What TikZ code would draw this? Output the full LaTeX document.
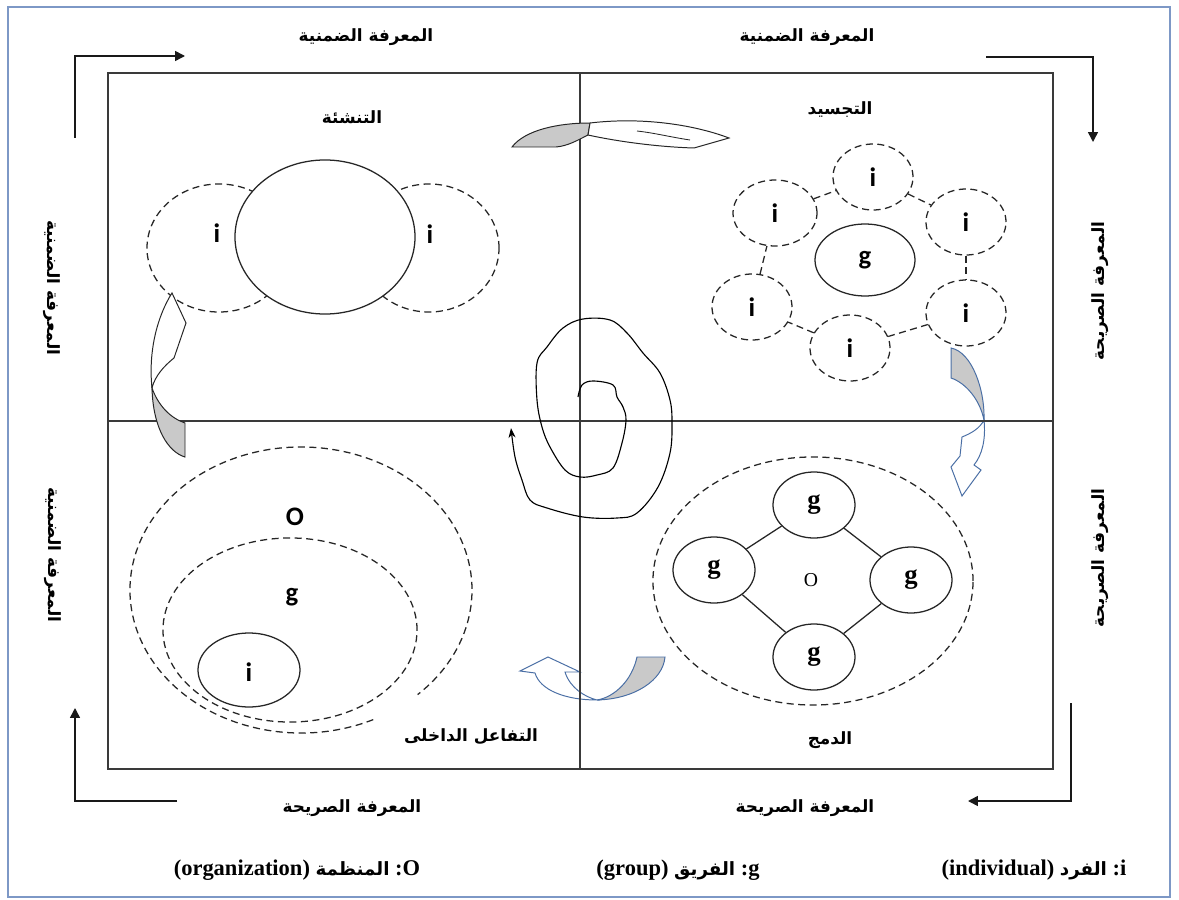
\documentclass[tikz,border=0pt]{standalone}
\usepackage{fontspec}
\usetikzlibrary{shapes.geometric,arrows.meta}
\TeXXeTstate=1
\setmainfont{Liberation Serif}
\newfontfamily\arabicfont[Script=Arabic]{DejaVu Sans}
\newfontfamily\labelsans{Carlito}

\definecolor{frameblue}{HTML}{7D98C6}
\definecolor{arrowblue}{HTML}{4A6FA5}
\definecolor{tailgray}{HTML}{C9C9C9}
\definecolor{linegray}{HTML}{3A3A3A}

\tikzset{
  artxt/.style={font=\arabicfont\bfseries\fontsize{12}{14}\selectfont, inner sep=1pt},
  sanslbl/.style={font=\labelsans\bfseries\fontsize{19}{21}\selectfont, inner sep=0pt},
  seriflbl/.style={font=\bfseries\fontsize{19}{21}\selectfont, inner sep=0pt},
  legend/.style={font=\bfseries\fontsize{16}{18}\selectfont, inner sep=1pt},
  dashring/.style={ellipse, draw=black!85, dash pattern=on 5pt off 3.2pt, line width=0.9pt, inner sep=0pt},
  solidring/.style={ellipse, draw=black!85, line width=0.9pt, fill=white, inner sep=0pt},
  dashlink/.style={draw=black!85, dash pattern=on 5pt off 3.2pt, line width=0.9pt},
  solidlink/.style={draw=black!85, line width=0.9pt},
  cornerarrow/.style={draw=black!90, line width=1.1pt, -{Triangle[length=7pt,width=7pt]}},
  blackband/.style={draw=black!85, line width=0.7pt, fill=white},
  blueband/.style={draw=arrowblue, line width=0.7pt, fill=white},
  blacktail/.style={draw=black!85, line width=0.7pt, fill=tailgray},
  bluetail/.style={draw=arrowblue, line width=0.7pt, fill=tailgray},
  foldline/.style={draw=black!85, line width=0.6pt},
}
\newcommand\legar[1]{{\arabicfont\bfseries\fontsize{13}{15}\selectfont #1}}

\begin{document}
\begin{tikzpicture}[x=0.025cm, y=-0.025cm]
\useasboundingbox (0,0) rectangle (1179,900);
\fill[white] (0,0) rectangle (1179,900);

% page frame
\draw[frameblue, line width=1.2pt] (8,7) rectangle (1170,897);

% --- top-right quadrant: individuals around a group ---
\node[dashring, minimum width=2cm, minimum height=1.65cm] (it)  at (873,177) {};
\node[dashring, minimum width=2.1cm, minimum height=1.65cm] (iul) at (775,213) {};
\node[dashring, minimum width=2cm, minimum height=1.65cm] (iur) at (966,222) {};
\node[dashring, minimum width=2cm, minimum height=1.65cm] (il)  at (752,307) {};
\node[dashring, minimum width=2cm, minimum height=1.65cm] (ilr) at (966,313) {};
\node[dashring, minimum width=2cm, minimum height=1.65cm] (ib)  at (850,348) {};
\node[solidring, minimum width=2.5cm, minimum height=1.8cm, sanslbl] (gc) at (865,260) {g};
\path[dashlink] (iul) -- (it);
\path[dashlink] (it) -- (iur);
\path[dashlink] (iur) -- (ilr);
\path[dashlink] (ilr) -- (ib);
\path[dashlink] (ib) -- (il);
\path[dashlink] (il) -- (iul);
\node[sanslbl] (tit)  at (it)  {i};
\node[sanslbl] (tiul) at (iul) {i};
\node[sanslbl] (tiur) at (iur) {i};
\node[sanslbl] (til)  at (il)  {i};
\node[sanslbl] (tilr) at (ilr) {i};
\node[sanslbl] (tib)  at (ib)  {i};

% --- top-left quadrant: two individuals sharing ---
\node[dashring, minimum width=3.6cm, minimum height=3.2cm] (sl) at (219,248) {};
\node[dashring, minimum width=3.5cm, minimum height=3.2cm] (sr) at (429,248) {};
\node[solidring, minimum width=4.5cm, minimum height=3.85cm] (sc) at (325,237) {};
\node[sanslbl] (sli) at (217,233) {i};
\node[sanslbl] (sri) at (430,234) {i};

% --- bottom-left quadrant: nested O, g, i ---
\draw[dashlink] (301,590) ++(65:171 and 143) arc[start angle=65, end angle=407, x radius=171, y radius=143];
\node[dashring, minimum width=6.35cm, minimum height=4.6cm] (ng) at (290,630) {};
\node[solidring, fill=none, minimum width=2.55cm, minimum height=1.85cm] (ni) at (249,670) {};
\node[sanslbl] (nO) at (295,517) {O};
\node[sanslbl] (ngl) at (292,597) {g};
\node[sanslbl] (nil) at (249,672) {i};

% --- bottom-right quadrant: groups within the organization ---
\node[dashring, minimum width=8cm, minimum height=6.2cm] (org) at (813,581) {};
\node[solidring, minimum width=2.05cm, minimum height=1.65cm, seriflbl] (gt) at (814,505) {g};
\node[solidring, minimum width=2.05cm, minimum height=1.65cm, seriflbl] (gl) at (714,570) {g};
\node[solidring, minimum width=2.05cm, minimum height=1.65cm, seriflbl] (gr) at (911,580) {g};
\node[solidring, minimum width=2.05cm, minimum height=1.65cm, seriflbl] (gb) at (814,657) {g};
\path[solidlink] (gt) -- (gl);
\path[solidlink] (gt) -- (gr);
\path[solidlink] (gl) -- (gb);
\path[solidlink] (gr) -- (gb);
\node[font=\fontsize{14}{16}\selectfont, inner sep=0pt] (oc) at (811,580) {O};

% --- blue curved arrows (under the frame lines) ---
\path[bluetail] (951,348) -- (951,378) .. controls (966,383) and (980,400) .. (984,420)
  .. controls (985,390) and (972,352) .. (951,348) -- cycle;
\path[blueband] (984,420) .. controls (986,440) and (982,455) .. (974,465) -- (981,470)
  -- (962,496) -- (951,467) -- (960,456) -- (962,437)
  .. controls (972,433) and (980,428) .. (984,420) -- cycle;
\path[bluetail] (637,657) -- (665,657) .. controls (663,680) and (635,699) .. (597,700)
  .. controls (615,697) and (632,680) .. (637,657) -- cycle;
\path[blueband] (597,700) .. controls (565,700) and (540,690) .. (535,673) -- (520,671)
  -- (548,657) -- (580,672) -- (565,672) .. controls (570,688) and (585,697) .. (597,700) -- cycle;

% --- the four quadrants ---
\draw[linegray, line width=1.3pt] (108,73) rectangle (1053,769);
\draw[linegray, line width=0.9pt] (580,73) -- (580,769);
\draw[linegray, line width=0.9pt] (108,421) -- (1053,421);

% --- black curved arrows ---
\path[blacktail] (512,147) -- (556,147) .. controls (568,146) and (578,140) .. (588,135)
  -- (590,123) .. controls (558,123) and (525,130) .. (512,147) -- cycle;
\path[blackband] (590,123) .. controls (640,117) and (692,124) .. (729,138) -- (694,148)
  .. controls (660,147) and (620,142) .. (588,135) -- cycle;
\path[foldline] (637,131) .. controls (655,133) and (670,137) .. (690,140);
\path[blacktail] (185,423) -- (185,457) .. controls (168,452) and (153,428) .. (152,388)
  .. controls (158,405) and (170,418) .. (185,423) -- cycle;
\path[blackband] (152,388) .. controls (148,350) and (158,315) .. (172,293) -- (186,323)
  -- (174,358) .. controls (164,366) and (155,376) .. (152,388) -- cycle;

% --- spiral of knowledge ---
\draw[black, line width=0.8pt, -{Stealth[length=7pt,width=5pt]}] plot[smooth, tension=0.6] coordinates {
  (578,397) (582,385) (593,381) (613,385) (617,397) (623,407) (626,420) (622,443)
  (613,468) (597,475) (580,477) (565,470) (550,447) (542,427) (537,400) (537,363)
  (547,347) (563,328) (583,319) (610,320) (627,333) (643,353) (660,373) (670,400)
  (672,423) (670,453) (658,487) (637,513) (617,518) (583,517) (547,508) (530,500)
  (522,480) (515,457) (511,428)};

% --- corner arrows ---
\coordinate (a1s) at (75,138);  \coordinate (a1m) at (75,56);   \coordinate (a1e) at (185,56);
\coordinate (a2s) at (986,57);  \coordinate (a2m) at (1093,57); \coordinate (a2e) at (1093,142);
\coordinate (a3s) at (1071,703); \coordinate (a3m) at (1071,801); \coordinate (a3e) at (968,801);
\coordinate (a4s) at (177,801); \coordinate (a4m) at (75,801);  \coordinate (a4e) at (75,708);
\draw[cornerarrow] (a1s) -- (a1m) -- (a1e);
\draw[cornerarrow] (a2s) -- (a2m) -- (a2e);
\draw[cornerarrow] (a3s) -- (a3m) -- (a3e);
\draw[cornerarrow] (a4s) -- (a4m) -- (a4e);

% --- Arabic labels ---
\node[artxt] (kt1) at (366,37) {\beginR المعرفة الضمنية\endR};
\node[artxt] (kt2) at (807,37) {\beginR المعرفة الضمنية\endR};
\node[artxt] (ke1) at (352,808) {\beginR المعرفة الصريحة\endR};
\node[artxt] (ke2) at (805,808) {\beginR المعرفة الصريحة\endR};
\node[artxt, rotate=-90] (kl1) at (52,288) {\beginR المعرفة الضمنية\endR};
\node[artxt, rotate=-90] (kl2) at (53,555) {\beginR المعرفة الضمنية\endR};
\node[artxt, rotate=90] (kr1) at (1100,291) {\beginR المعرفة الصريحة\endR};
\node[artxt, rotate=90] (kr2) at (1100,558) {\beginR المعرفة الصريحة\endR};
\node[artxt] (q1) at (352,117) {\beginR التنشئة\endR};
\node[artxt] (q2) at (840,110) {\beginR التجسيد\endR};
\node[artxt] (q3) at (471,737) {\beginR التفاعل الداخلى\endR};
\node[artxt] (q4) at (830,740) {\beginR الدمج\endR};

% --- legend ---
\node[legend] (lo) at (297,870) {(organization) \legar{المنظمة} :O};
\node[legend] (lg) at (678,870) {(group) \legar{الفريق} :g};
\node[legend] (li) at (1034,870) {(individual) \legar{الفرد} :i};
\end{tikzpicture}
\end{document}
